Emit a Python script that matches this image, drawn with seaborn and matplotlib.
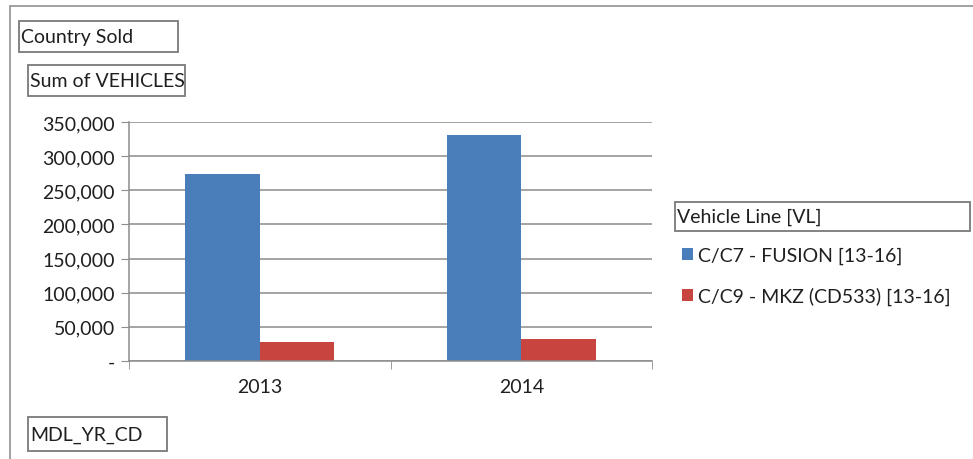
import pandas as pd
import seaborn as sns
import matplotlib
matplotlib.use("Agg")
import matplotlib.pyplot as plt
from matplotlib.patches import Rectangle
from matplotlib.lines import Line2D
from matplotlib.ticker import FuncFormatter

# data
years = ["2013", "2014"]
fusion = [274000, 331000]
mkz = [27500, 32500]
series_names = ["C/C7 - FUSION [13-16]", "C/C9 - MKZ (CD533) [13-16]"]
colors = ["#4A7EBB", "#C8453F"]
y_ticks = [0, 50000, 100000, 150000, 200000, 250000, 300000, 350000]

df = pd.DataFrame({
    "MDL_YR_CD": years * 2,
    "VL": [series_names[0]] * 2 + [series_names[1]] * 2,
    "VEHICLES": fusion + mkz,
})

sns.set_style("white")
plt.rcParams["font.family"] = ["Lato", "DejaVu Sans"]
txt = "#1f1f1f"
gray = "#8c8c8c"

W, H = 973, 460
fig = plt.figure(figsize=(W / 100, H / 100), dpi=100)
ax = fig.add_axes([129 / W, 1 - 362 / H, (652 - 129) / W, (362 - 123) / H])

sns.barplot(data=df, x="MDL_YR_CD", y="VEHICLES", hue="VL", palette=colors,
            width=0.57, saturation=1, linewidth=0, ax=ax, legend=True)

ax.set_ylim(0, 350000)
ax.set_xlim(-0.5, 1.5)
ax.set_yticks(y_ticks)
ax.yaxis.set_major_formatter(FuncFormatter(lambda v, p: "-" if v == 0 else f"{int(v):,}"))
ax.grid(axis="y", color=gray, linewidth=1.1)
ax.set_axisbelow(True)
ax.set_xlabel("")
ax.set_ylabel("")
for s in ["top", "right"]:
    ax.spines[s].set_visible(False)
for s in ["left", "bottom"]:
    ax.spines[s].set_color(gray)
    ax.spines[s].set_linewidth(1.1)
ax.tick_params(axis="y", length=6, color=gray, labelsize=14, labelcolor=txt, pad=4, left=True)
ax.tick_params(axis="x", which="major", length=0, labelsize=14, labelcolor=txt, pad=12)
ax.set_xticks([-0.5, 0.5, 1.5], minor=True)
ax.tick_params(axis="x", which="minor", length=6, color=gray, bottom=True)

# legend without its title; the title is drawn as a boxed field
leg = ax.legend(loc="upper left", bbox_to_anchor=(682 / W, 1 - 248 / H),
                bbox_transform=fig.transFigure, frameon=False, fontsize=14,
                handlelength=0.55, handleheight=0.55, handletextpad=0.25,
                labelspacing=1.15, borderaxespad=0, borderpad=0)
for t in leg.get_texts():
    t.set_color(txt)


def field(x0, y0, x1, y1, label):
    fig.patches.append(Rectangle((x0 / W, 1 - y1 / H), (x1 - x0) / W, (y1 - y0) / H,
                                 transform=fig.transFigure, fill=False,
                                 edgecolor="#7a7a7a", linewidth=1.3))
    fig.text((x0 + 2) / W, 1 - (y0 + y1) / 2 / H, label, fontsize=14,
             color=txt, va="center", ha="left")


field(19, 22, 178, 53, "Country Sold")
field(28, 66, 185, 97, "Sum of VEHICLES")
field(28, 418, 167, 452, "MDL_YR_CD")
field(675, 203, 970, 232, "Vehicle Line [VL]")

# outer frame of the pivot chart
fig.lines.append(Line2D([10 / W, 1], [1 - 7 / H, 1 - 7 / H], transform=fig.transFigure,
                        color="#9a9a9a", linewidth=1.3))
fig.lines.append(Line2D([10 / W, 10 / W], [0, 1 - 7 / H], transform=fig.transFigure,
                        color="#9a9a9a", linewidth=1.3))

fig.savefig("out.png", dpi=100)
